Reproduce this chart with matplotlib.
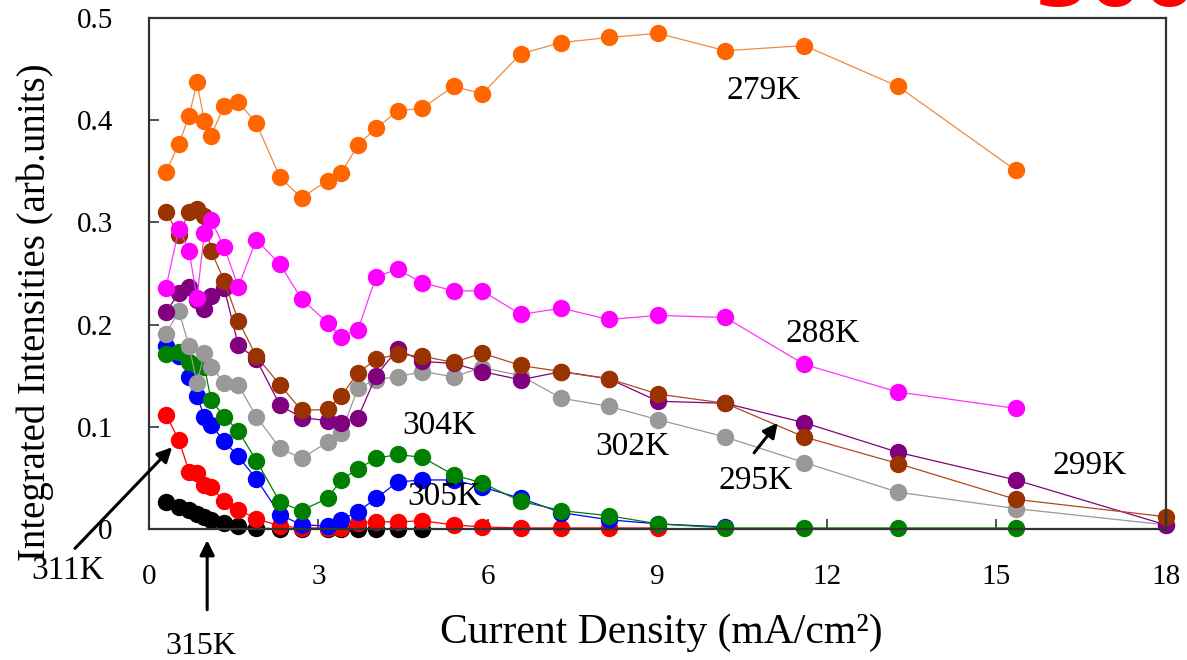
#!/usr/bin/env python3

from matplotlib import pyplot as plt

# current density steps (mA/cm^2), shared by every temperature series
CURRENT = [0.30, 0.53, 0.71, 0.85, 0.98, 1.10, 1.33, 1.58, 1.90, 2.32, 2.70,
           3.16, 3.40, 3.70, 4.02, 4.40, 4.84, 5.39, 5.90, 6.58, 7.30, 8.14,
           9.01, 10.20, 11.60, 13.26, 15.34, 18.0]

I_279K = [0.349, 0.377, 0.404, 0.437, 0.399, 0.385, 0.414, 0.418, 0.397, 0.344,
          0.324, 0.341, 0.348, 0.376, 0.392, 0.409, 0.412, 0.433, 0.426, 0.465,
          0.476, 0.481, 0.485, 0.468, 0.473, 0.433, 0.351]
I_288K = [0.236, 0.294, 0.272, 0.226, 0.290, 0.302, 0.276, 0.237, 0.283, 0.259,
          0.225, 0.202, 0.188, 0.195, 0.247, 0.254, 0.241, 0.233, 0.233, 0.210,
          0.216, 0.205, 0.209, 0.207, 0.161, 0.134, 0.118]
I_295K = [0.310, 0.288, 0.310, 0.313, 0.306, 0.272, 0.243, 0.204, 0.169, 0.141,
          0.116, 0.117, 0.130, 0.153, 0.166, 0.171, 0.169, 0.163, 0.172, 0.160,
          0.154, 0.147, 0.132, 0.123, 0.090, 0.064, 0.029, 0.012]
I_299K = [0.212, 0.231, 0.237, 0.224, 0.215, 0.228, 0.236, 0.180, 0.166, 0.121,
          0.109, 0.106, 0.104, 0.109, 0.150, 0.176, 0.164, 0.162, 0.154, 0.146,
          0.154, 0.147, 0.125, 0.123, 0.104, 0.075, 0.048, 0.004]
I_302K = [0.191, 0.213, 0.179, 0.143, 0.172, 0.159, 0.143, 0.141, 0.110, 0.079,
          0.069, 0.085, 0.094, 0.138, 0.146, 0.149, 0.154, 0.149, 0.158, 0.150,
          0.128, 0.120, 0.107, 0.090, 0.065, 0.036, 0.020, 0.004]
I_304K = [0.171, 0.173, 0.163, 0.160, 0.159, 0.126, 0.110, 0.096, 0.067, 0.026,
          0.018, 0.030, 0.048, 0.059, 0.069, 0.073, 0.070, 0.053, 0.045, 0.027,
          0.018, 0.013, 0.005, 0.001, 0.001, 0.001, 0.001]
I_305K = [0.179, 0.169, 0.149, 0.130, 0.110, 0.102, 0.086, 0.071, 0.049, 0.014,
          0.004, 0.003, 0.009, 0.017, 0.030, 0.046, 0.048, 0.048, 0.041, 0.030,
          0.016, 0.009, 0.005, 0.002]
I_311K = [0.112, 0.087, 0.056, 0.055, 0.043, 0.041, 0.027, 0.019, 0.010, 0.003,
          0.001, 0.001, 0.001, 0.006, 0.007, 0.007, 0.008, 0.004, 0.002, 0.001,
          0.001, 0.001, 0.001]
I_315K = [0.026, 0.022, 0.019, 0.015, 0.012, 0.009, 0.006, 0.003, 0.001, 0.0,
          0.0, 0.0, 0.0, 0.0, 0.0, 0.0, 0.0]

X_TICKS = [0, 3, 6, 9, 12, 15, 18]
Y_TICKS = [0, 0.1, 0.2, 0.3, 0.4, 0.5]
Y_TICK_LABELS = ["0", "0.1", "0.2", "0.3", "0.4", "0.5"]

# drawn bottom first so the warm curves sit on top
SERIES = [
    (I_315K, "black", "black"),
    (I_311K, "#ff0000", "#ff0000"),
    (I_305K, "#0000ff", "#0000ff"),
    (I_304K, "#008000", "#008000"),
    (I_302K, "#999999", "#999999"),
    (I_299K, "#800080", "#800080"),
    (I_295K, "#993300", "#b04a1a"),
    (I_288K, "#ff00ff", "#ff33ff"),
    (I_279K, "#ff6600", "#f08a40"),
]

SERIF = "Liberation Serif"


def main():
    fig = plt.figure(figsize=(11.87, 6.60), dpi=100)
    ax = fig.add_axes((0.1255, 0.1985, 0.8568, 0.7742))

    for values, marker_color, line_color in SERIES:
        ax.plot(
            CURRENT[: len(values)],
            values,
            color=line_color,
            lw=0.9,
            marker="o",
            ms=11.5,
            mfc=marker_color,
            mec=marker_color,
            clip_on=False,
        )

    ax.set_xlim(0, 18)
    ax.set_ylim(0, 0.5)
    ax.set_xticks(X_TICKS)
    ax.set_xticklabels([str(t) for t in X_TICKS], family=SERIF, fontsize=21)
    ax.set_yticks(Y_TICKS)
    ax.set_yticklabels(Y_TICK_LABELS, family=SERIF, fontsize=21)
    ax.tick_params(direction="in", length=7, width=1.2, colors="#333333")
    ax.tick_params(axis="x", pad=25, labelcolor="black")
    ax.tick_params(axis="y", pad=26, labelcolor="black")
    for spine in ax.spines.values():
        spine.set_linewidth(1.6)
        spine.set_color("#333333")

    ax.set_xlabel("Current Density (mA/cm²)", family=SERIF, fontsize=30,
                  va="center")
    ax.xaxis.set_label_coords(0.504, -0.204)
    ax.set_ylabel("Integrated Intensities (arb.units)", family=SERIF,
                  fontsize=28, va="center")
    ax.yaxis.set_label_coords(-0.112, 0.425)

    labels = [
        ("279K", 10.87, 0.429),
        ("288K", 11.93, 0.191),
        ("304K", 5.14, 0.101),
        ("305K", 5.23, 0.032),
        ("302K", 8.55, 0.080),
        ("295K", 10.73, 0.047),
        ("299K", 16.65, 0.062),
        ("311K", -1.44, -0.041),
    ]
    for text, x, y in labels:
        ax.text(x, y, text, family=SERIF, fontsize=24, ha="center",
                va="center", clip_on=False)
    ax.text(0.92, -0.1225, "315K", family=SERIF, fontsize=23, ha="center",
            va="baseline", clip_on=False)

    arrow = dict(arrowstyle="-|>", lw=2.2, color="black", mutation_scale=22,
                 shrinkA=0, shrinkB=0)
    for tail, head in [
        ((10.71, 0.0745), (11.13, 0.104)),
        ((-1.31, -0.019), (0.41, 0.080)),
        ((1.03, -0.079), (1.03, -0.011)),
    ]:
        ax.annotate("", xy=head, xytext=tail, arrowprops=arrow,
                    annotation_clip=False)

    # large red caption running off the top edge
    fig.text(0.872, 1 - 6 / 660, "3001", color="#ff0000", fontsize=56,
             fontweight="bold", ha="left", va="baseline")

    fig.savefig("out.png", dpi=100)


if __name__ == "__main__":
    main()
